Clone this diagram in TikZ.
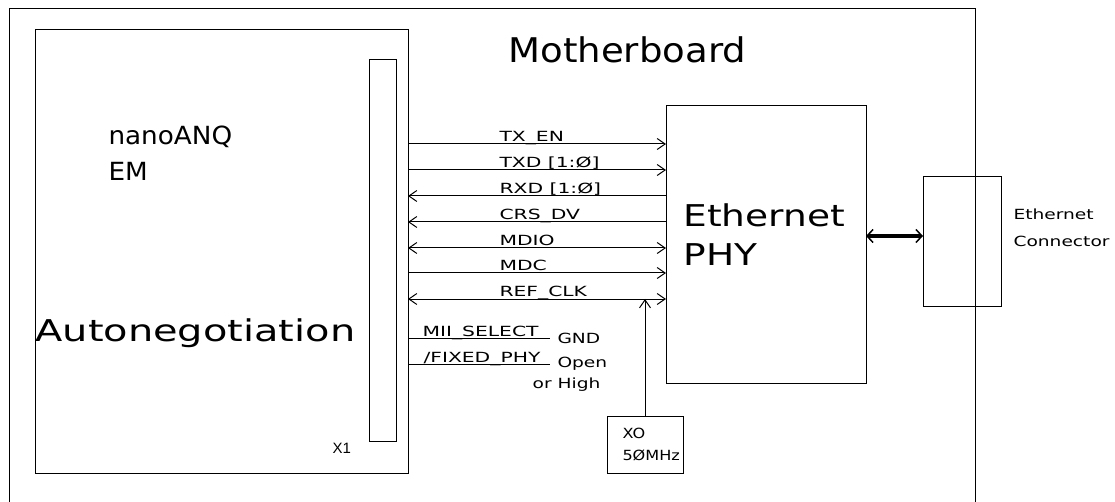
\documentclass[tikz,border=0pt]{standalone}
\usepackage{fontspec}
\setmainfont{DejaVu Sans}
\newfontfamily\bigf{DejaVu Sans}[FakeStretch=1.25]
\newfontfamily\autof{DejaVu Sans}[FakeStretch=1.33]
\newfontfamily\nanof{DejaVu Sans}[FakeStretch=1.05]
\newfontfamily\sigf{DejaVu Sans}[FakeStretch=1.45]
\newfontfamily\smallf{DejaVu Sans}[FakeStretch=1.33]
\newfontfamily\xof{DejaVu Sans}[FakeStretch=1.15]
\newfontfamily\titlef{DejaVu Sans}[FakeStretch=1.09]
\newfontfamily\xonef{Liberation Sans}
\usetikzlibrary{arrows.meta}
\begin{document}
\begin{tikzpicture}[x=1pt,y=-1pt,line width=1pt,
  >={Straight Barb[length=8pt,width=11pt,line width=1pt]},
  box/.style={draw,line width=1pt,anchor=north west,inner sep=0pt,outer sep=0pt},
  lbl/.style={inner sep=0pt,anchor=base west,font=\smallf\fontsize{14}{14}\selectfont},
  sig/.style={inner sep=0pt,anchor=base west,font=\sigf\fontsize{14}{14}\selectfont},
  big/.style={inner sep=0pt,anchor=base west,font=\bigf\fontsize{30}{30}\selectfont},
  thick arrow/.style={line width=4pt,
    {Straight Barb[length=6pt,width=13pt,line width=1.5pt]}-{Straight Barb[length=6pt,width=13pt,line width=1.5pt]}}]
\useasboundingbox (0,0) rectangle (1115,502);
\clip (0,0) rectangle (1115,502);
% boxes
\node[box,minimum width=966pt,minimum height=540pt] (board) at (9,9) {};
\node[box,minimum width=373pt,minimum height=443pt] (em) at (35,30) {};
\node[box,minimum width=27pt,minimum height=381pt] (x1) at (369,60) {};
\node[box,minimum width=200pt,minimum height=277pt] (phy) at (666,106) {};
\node[box,minimum width=76pt,minimum height=57pt] (xo) at (607,416) {};
\node[box,minimum width=78pt,minimum height=129pt] (conn) at (923,177) {};
% row coordinates
\coordinate (yTX) at (0,144);
\coordinate (yTXD) at (0,170);
\coordinate (yRXD) at (0,196);
\coordinate (yCRS) at (0,222);
\coordinate (yMDIO) at (0,248);
\coordinate (yMDC) at (0,273);
\coordinate (yREF) at (0,299);
\coordinate (yMII) at (0,338);
\coordinate (yFIX) at (0,364);
\coordinate (yETH) at (0,236);
\coordinate (miiEnd) at (550,338);
\coordinate (fixEnd) at (550,364);
% signals
\draw[->] (em.east |- yTX) -- (phy.west |- yTX);
\draw[->] (em.east |- yTXD) -- (phy.west |- yTXD);
\draw[<-] (em.east |- yRXD) -- (phy.west |- yRXD);
\draw[<-] (em.east |- yCRS) -- (phy.west |- yCRS);
\draw[<->] (em.east |- yMDIO) -- (phy.west |- yMDIO);
\draw[->] (em.east |- yMDC) -- (phy.west |- yMDC);
\draw[<->] (em.east |- yREF) -- (phy.west |- yREF);
\draw[->] (xo.north) -- (xo.north |- yREF);
\draw (em.east |- yMII) -- (miiEnd);
\draw (em.east |- yFIX) -- (fixEnd);
\draw[thick arrow] (phy.east |- yETH) -- (conn.west |- yETH);
% labels
\node[inner sep=0pt,anchor=base west,font=\titlef\fontsize{34}{34}\selectfont] (tmb) at (508,63) {Motherboard};
\node[big,font=\nanof\fontsize{25}{25}\selectfont] (tnano) at (108,145) {nanoANQ};
\node[big,font=\nanof\fontsize{25}{25}\selectfont] (tem) at (108,181) {EM};
\node[big,font=\autof\fontsize{30}{30}\selectfont] (tauto) at (35,341) {Autonegotiation};
\node[big] (teth) at (683,227) {Ethernet};
\node[big] (tphy) at (683,266) {PHY};
\node[sig] (ltx) at (499,142) {TX\_EN};
\node[sig] (ltxd) at (499,168) {TXD [1:Ø]};
\node[sig] (lrxd) at (499,194) {RXD [1:Ø]};
\node[sig] (lcrs) at (499,220) {CRS\_DV};
\node[sig] (lmdio) at (499,246) {MDIO};
\node[sig] (lmdc) at (499,271) {MDC};
\node[sig] (lref) at (499,297) {REF\_CLK};
\node[sig] (lmii) at (422,336) {MII\_SELECT};
\node[sig] (lfix) at (423,362) {/FIXED\_PHY};
\node[lbl] (lgnd) at (557,343) {GND};
\node[lbl] (lopen) at (557,367) {Open};
\node[lbl,anchor=base east] (lhigh) at (601,388) {or High};
\node[lbl,font=\xof\fontsize{14}{14}\selectfont] (lxo) at (622,438) {XO};
\node[lbl,font=\xof\fontsize{14}{14}\selectfont] (l50) at (622,460) {5ØMHz};
\node[lbl] (lec1) at (1013,220) {Ethernet};
\node[lbl] (lec2) at (1013,247) {Connector};
\node[inner sep=0pt,anchor=base west,font=\xonef\fontsize{15}{15}\selectfont] (lx1) at (332,453) {X1};
\end{tikzpicture}
\end{document}
